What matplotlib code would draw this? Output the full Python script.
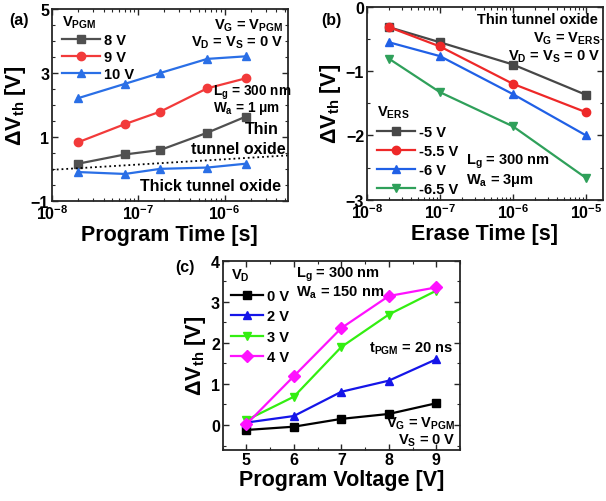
import numpy as np
import matplotlib
matplotlib.use("Agg")
from matplotlib import pyplot as plt
from matplotlib.ticker import MultipleLocator, FixedLocator

plt.rcParams['font.family'] = ['Liberation Sans', 'DejaVu Sans']
plt.rcParams['font.weight'] = 'bold'
plt.rcParams['mathtext.fontset'] = 'custom'
plt.rcParams['mathtext.rm'] = 'Liberation Sans:bold'
plt.rcParams['mathtext.bf'] = 'Liberation Sans:bold'
plt.rcParams['mathtext.it'] = 'Liberation Sans:bold'
plt.rcParams['mathtext.default'] = 'rm'

#%% Datos (a): programa vs tiempo
t_pgm = [2e-8, 7e-8, 1.8e-7, 6.3e-7, 1.75e-6]
a_labels = ['8 V', '9 V', '10 V']
a_8V = [0.16, 0.45, 0.59, 1.13, 1.63]
a_9V = [0.83, 1.40, 1.79, 2.52, 2.83]
a_10V = [2.21, 2.66, 3.00, 3.44, 3.52]
a_thick = [-0.10, -0.16, 0.00, 0.04, 0.16]
oxide_t = [1e-8, 5.4e-6]
oxide_v = [-0.03, 0.42]

#%% Datos (b): borrado vs tiempo
t_ers = [2e-8, 1e-7, 1e-6, 1e-5]
b_labels = ['-5 V', '-5.5 V', '-6 V', '-6.5 V']
b_5V = [-0.32, -0.555, -0.90, -1.37]
b_55V = [-0.32, -0.62, -1.20, -1.64]
b_6V = [-0.555, -0.77, -1.36, -2.00]
b_65V = [-0.81, -1.33, -1.86, -2.66]

#%% Datos (c): programa vs tension
v_pgm = [5, 6, 7, 8, 9]
c_labels = ['0 V', '2 V', '3 V', '4 V']
c_0V = [-0.12, -0.04, 0.15, 0.27, 0.53]
c_2V = [0.06, 0.22, 0.81, 1.08, 1.60]
c_3V = [0.12, 0.69, 1.90, 2.69, 3.27]
c_4V = [0.02, 1.19, 2.36, 3.14, 3.35]

fig = plt.figure(figsize=(6.06, 5.02), dpi=100)
ax1 = fig.add_axes([0.0858, 0.598, 0.389, 0.382])
ax2 = fig.add_axes([0.6056, 0.600, 0.389, 0.385])
ax3 = fig.add_axes([0.3675, 0.1022, 0.3915, 0.3765])

def applyPlotStyle(ax):
    for s in ax.spines.values():
        s.set_linewidth(1.3)
        s.set_color('0.15')
    ax.tick_params(which='both', direction='in', top=True, right=True,
                   labelsize=11.5, pad=2, color='0.15')
    ax.tick_params(which='major', length=4, width=1)
    ax.tick_params(which='minor', length=2, width=0.8)
    for lab in ax.get_xticklabels() + ax.get_yticklabels():
        lab.set_fontweight('bold')

def legendStyle(ax, title, spacing=0.25, hl=2.6, **kw):
    leg = ax.legend(title=title, frameon=False, loc='upper left',
                    alignment='left', fontsize=10.5, title_fontsize=10.5,
                    handlelength=hl, handletextpad=0.3, labelspacing=spacing,
                    borderaxespad=0.3, **kw)
    return leg

lw = 1.6
ms = 6
fl = 15.5

#%% (a)
plt.sca(ax1)
plt.semilogx(t_pgm, a_8V, 's-', color='#505050', lw=lw, ms=ms, label=a_labels[0])
plt.semilogx(t_pgm, a_9V, 'o-', color='#f23a3a', lw=lw, ms=ms, label=a_labels[1])
plt.semilogx(t_pgm, a_10V, '^-', color='#2a6fe6', lw=lw, ms=ms, label=a_labels[2])
plt.semilogx(t_pgm, a_thick, '^-', color='#2a6fe6', lw=lw, ms=ms)
plt.semilogx(oxide_t, oxide_v, ':', color='k', lw=1.3)
plt.xlim(1e-8, 5.4e-6)
plt.ylim(-1, 5)
ax1.yaxis.set_major_locator(FixedLocator([-1, 1, 3, 5]))
ax1.yaxis.set_minor_locator(MultipleLocator(0.5))
plt.ylabel('ΔV$_{th}$ [V]', fontsize=fl, weight='bold', labelpad=2)
plt.xlabel('Program Time [s]', fontsize=fl, weight='bold', labelpad=1)
applyPlotStyle(ax1)
legendStyle(ax1, 'V$_{PGM}$', spacing=0.2, bbox_to_anchor=(0.0, 1.03))
ax1.text(0.98, 0.96, 'V$_G$ = V$_{PGM}$', transform=ax1.transAxes, ha='right', va='top', fontsize=10.5)
ax1.text(0.98, 0.87, 'V$_D$ = V$_S$ = 0 V', transform=ax1.transAxes, ha='right', va='top', fontsize=10.5)
ax1.text(0.685, 0.52, 'L$_g$ = 300 nm', transform=ax1.transAxes, ha='left', va='bottom', fontsize=9.8)
ax1.text(0.685, 0.44, 'W$_a$ = 1 μm', transform=ax1.transAxes, ha='left', va='bottom', fontsize=9.8)
ax1.text(0.96, 0.34, 'Thin', transform=ax1.transAxes, ha='right', va='bottom', fontsize=11.5)
ax1.text(0.99, 0.235, 'tunnel oxide', transform=ax1.transAxes, ha='right', va='bottom', fontsize=11.5)
ax1.text(0.97, 0.04, 'Thick tunnel oxide', transform=ax1.transAxes, ha='right', va='bottom', fontsize=11.5)
fig.text(0.015, 0.975, '(a)', fontsize=11.5, weight='bold', va='top')

#%% (b)
plt.sca(ax2)
plt.semilogx(t_ers, b_5V, 's-', color='#474747', lw=lw, ms=ms, label=b_labels[0])
plt.semilogx(t_ers, b_55V, 'o-', color='#ee2828', lw=lw, ms=ms, label=b_labels[1])
plt.semilogx(t_ers, b_6V, '^-', color='#2060e6', lw=lw, ms=ms, label=b_labels[2])
plt.semilogx(t_ers, b_65V, 'v-', color='#2fa05a', lw=lw, ms=ms, label=b_labels[3])
plt.xlim(1e-8, 1.7e-5)
plt.ylim(-3, 0)
ax2.yaxis.set_major_locator(MultipleLocator(1))
ax2.yaxis.set_minor_locator(MultipleLocator(0.5))
plt.ylabel('ΔV$_{th}$ [V]', fontsize=fl, weight='bold', labelpad=2)
plt.xlabel('Erase Time [s]', fontsize=fl, weight='bold', labelpad=1)
applyPlotStyle(ax2)
legendStyle(ax2, 'V$_{ERS}$', spacing=0.34, bbox_to_anchor=(0.0, 0.55))
ax2.text(0.98, 0.97, 'Thin tunnel oxide', transform=ax2.transAxes, ha='right', va='top', fontsize=10.5)
ax2.text(0.99, 0.88, 'V$_G$ = V$_{ERS}$', transform=ax2.transAxes, ha='right', va='top', fontsize=10.5)
ax2.text(0.99, 0.79, 'V$_D$ = V$_S$ = 0 V', transform=ax2.transAxes, ha='right', va='top', fontsize=10.5)
ax2.text(0.42, 0.155, 'L$_g$ = 300 nm', transform=ax2.transAxes, ha='left', va='bottom', fontsize=10.5)
ax2.text(0.42, 0.06, 'W$_a$ = 3μm', transform=ax2.transAxes, ha='left', va='bottom', fontsize=10.5)
fig.text(0.53, 0.975, '(b)', fontsize=11.5, weight='bold', va='top')

#%% (c)
plt.sca(ax3)
plt.plot(v_pgm, c_0V, 's-', color='k', lw=lw, ms=ms, label=c_labels[0])
plt.plot(v_pgm, c_2V, '^-', color='#1515e8', lw=lw, ms=ms, label=c_labels[1])
plt.plot(v_pgm, c_3V, 'v-', color='#33ee11', lw=lw, ms=ms, label=c_labels[2])
plt.plot(v_pgm, c_4V, 'D-', color='#ff11ff', lw=lw, ms=ms, label=c_labels[3])
plt.xlim(4.5, 9.5)
plt.ylim(-0.6, 4)
ax3.xaxis.set_major_locator(MultipleLocator(1))
ax3.xaxis.set_minor_locator(MultipleLocator(0.5))
ax3.yaxis.set_major_locator(MultipleLocator(1))
ax3.yaxis.set_minor_locator(MultipleLocator(0.5))
plt.ylabel('ΔV$_{th}$ [V]', fontsize=fl, weight='bold', labelpad=2)
plt.xlabel('Program Voltage [V]', fontsize=fl, weight='bold', labelpad=1)
applyPlotStyle(ax3)
legendStyle(ax3, 'V$_D$', spacing=0.44, hl=2.2, bbox_to_anchor=(-0.01, 1.025))
ax3.text(0.31, 0.98, 'L$_g$ = 300 nm', transform=ax3.transAxes, ha='left', va='top', fontsize=10.5)
ax3.text(0.31, 0.88, 'W$_a$ = 150 nm', transform=ax3.transAxes, ha='left', va='top', fontsize=10.5)
ax3.text(0.97, 0.58, 't$_{PGM}$ = 20 ns', transform=ax3.transAxes, ha='right', va='top', fontsize=10.5)
ax3.text(0.98, 0.10, 'V$_G$ = V$_{PGM}$', transform=ax3.transAxes, ha='right', va='bottom', fontsize=10.5)
ax3.text(0.98, 0.01, 'V$_S$ = 0 V', transform=ax3.transAxes, ha='right', va='bottom', fontsize=10.5)
fig.text(0.29, 0.483, '(c)', fontsize=11.5, weight='bold', va='top')

plt.savefig('out.png', dpi=100)
